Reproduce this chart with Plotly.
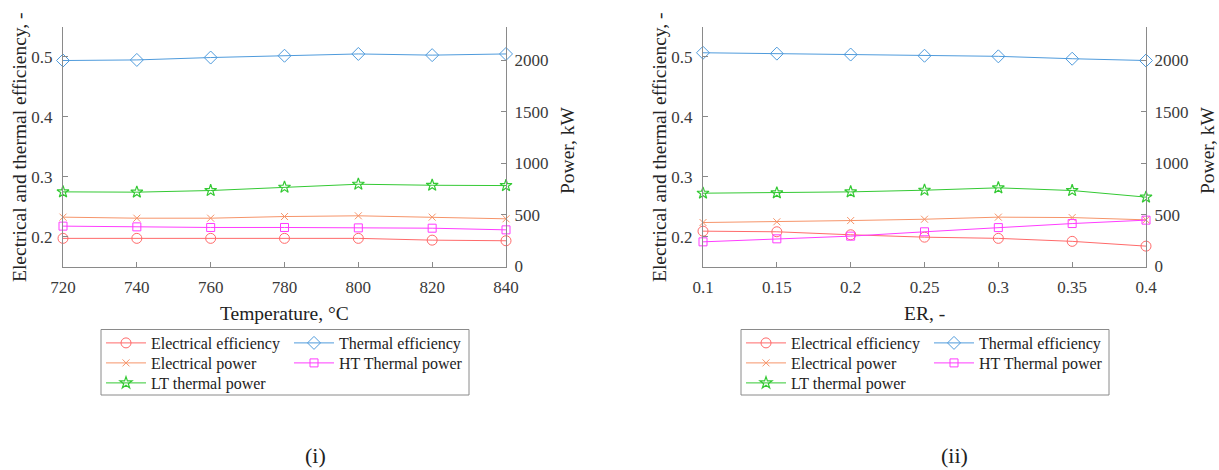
import plotly.graph_objects as go

W, H = 1219, 470

# ---------------- data ----------------
temperature = [720, 740, 760, 780, 800, 820, 840]
er = [0.1, 0.15, 0.2, 0.25, 0.3, 0.35, 0.4]
er_ticktext = ["0.1", "0.15", "0.2", "0.25", "0.3", "0.35", "0.4"]

# (i) temperature sweep
t_elec_eff = [0.197, 0.197, 0.197, 0.197, 0.197, 0.194, 0.193]
t_therm_eff = [0.494, 0.495, 0.499, 0.502, 0.505, 0.503, 0.505]
t_elec_pow = [478, 468, 468, 484, 491, 478, 462]
t_ht_pow = [391, 384, 378, 378, 374, 371, 355]
t_lt_pow = [723, 720, 736, 768, 797, 787, 784]

# (ii) ER sweep
e_elec_eff = [0.209, 0.208, 0.203, 0.199, 0.197, 0.192, 0.184]
e_therm_eff = [0.507, 0.5055, 0.504, 0.502, 0.501, 0.497, 0.494]
e_elec_pow = [426, 433, 445, 458, 478, 474, 452]
e_ht_pow = [239, 268, 294, 336, 377, 416, 449]
e_lt_pow = [710, 713, 723, 739, 762, 736, 672]

eff_ticks = [0.2, 0.3, 0.4, 0.5]
eff_ticktext = ["0.2", "0.3", "0.4", "0.5"]
pow_ticks = [0, 500, 1000, 1500, 2000]

names = ["Electrical efficiency", "Thermal efficiency", "Electrical power",
         "HT Thermal power", "LT thermal power"]
colors = ["#ff6a6a", "#4f9bdc", "#f6946a", "#ff3cff", "#34c934"]
symbols = ["circle-open", "diamond-open", "x-thin-open", "square-open", "star-open"]
msizes = [10, 10, 7, 8, 9]

FONT = "Liberation Serif"
AX = "#8a8a8a"
TXT = "#3a3a3a"

fig = go.Figure()


def px_x(p):
    return p / W


def px_y(p):
    return 1 - p / H


# domains (pixel positions)
d1 = [px_x(63), px_x(506)]
d2 = [px_x(703), px_x(1146)]
dy = [px_y(266.5), px_y(27)]

panels = [
    (temperature, [t_elec_eff, t_therm_eff, t_elec_pow, t_ht_pow, t_lt_pow],
     "x", "y", "y2", ["legend", "legend", "legend2", "legend2", "legend3"]),
    (er, [e_elec_eff, e_therm_eff, e_elec_pow, e_ht_pow, e_lt_pow],
     "x2", "y3", "y4", ["legend4", "legend4", "legend5", "legend5", "legend6"]),
]

for xs, series, xa, ya_l, ya_r, legs in panels:
    for i, vals in enumerate(series):
        on_right = i >= 2
        fig.add_trace(go.Scatter(
            x=xs, y=vals, name=names[i], mode="lines+markers",
            line=dict(color=colors[i], width=1),
            marker=dict(symbol=symbols[i], size=msizes[i], color=colors[i],
                        line=dict(color=colors[i], width=1.2 if i == 4 else 1)),
            xaxis=xa, yaxis=(ya_r if on_right else ya_l),
            legend=legs[i], cliponaxis=False,
        ))

tickfont = dict(family=FONT, size=17, color=TXT)
common_x = dict(showline=True, linecolor=AX, linewidth=1, ticks="inside",
                ticklen=5, tickcolor=AX, showgrid=False, zeroline=False,
                tickfont=tickfont, automargin=False, ticklabelstandoff=5)
common_yl = dict(showline=True, linecolor=AX, linewidth=1, ticks="inside",
                 ticklen=5, tickcolor=AX, showgrid=False, zeroline=False,
                 tickfont=tickfont, automargin=False, ticklabelstandoff=6)
common_yr = dict(common_yl, ticklabelstandoff=4)

fig.update_layout(
    width=W, height=H,
    margin=dict(l=0, r=0, t=0, b=0, pad=0, autoexpand=False),
    paper_bgcolor="white", plot_bgcolor="white",
    font=dict(family=FONT, color="#222222"),
    xaxis=dict(domain=d1, anchor="y", range=[720, 840], tickvals=temperature,
               **common_x),
    yaxis=dict(domain=dy, anchor="x", range=[0.15, 0.55], tickvals=eff_ticks,
               ticktext=eff_ticktext, side="left", **common_yl),
    yaxis2=dict(domain=dy, anchor="x", overlaying="y", side="right",
                range=[0, 2320], tickvals=pow_ticks, **common_yr),
    xaxis2=dict(domain=d2, anchor="y3", range=[0.1, 0.4], tickvals=er,
                ticktext=er_ticktext, **common_x),
    yaxis3=dict(domain=dy, anchor="x2", range=[0.15, 0.55], tickvals=eff_ticks,
                ticktext=eff_ticktext, side="left", **common_yl),
    yaxis4=dict(domain=dy, anchor="x2", overlaying="y3", side="right",
                range=[0, 2320], tickvals=pow_ticks, **common_yr),
)

# legends: one horizontal legend per row
leg_font = dict(family=FONT, size=16, color="#222222")
rows_y = [343, 363, 383]
for base, x0 in [(0, 101), (3, 741)]:
    for r in range(3):
        key = "legend" if base + r == 0 else f"legend{base + r + 1}"
        fig.update_layout(**{key: dict(
            x=px_x(x0), xanchor="left", y=px_y(rows_y[r]), yanchor="middle",
            orientation="h", entrywidth=133, entrywidthmode="pixels",
            itemwidth=40, font=leg_font, bgcolor="rgba(0,0,0,0)",
            borderwidth=0, tracegroupgap=0, itemclick=False,
        )})

# legend boxes
for x0, x1 in [(101, 469), (741, 1109)]:
    fig.add_shape(type="rect", xref="paper", yref="paper",
                  x0=px_x(x0), x1=px_x(x1), y0=px_y(395), y1=px_y(329.5),
                  line=dict(color=AX, width=1), fillcolor="rgba(0,0,0,0)")

title_font = dict(family=FONT, size=19.5, color="#222222")
ann = [
    dict(text="Electrical and thermal efficiency, -", x=20, y=147, angle=-90),
    dict(text="Power, kW", x=567, y=150, angle=-90),
    dict(text="Temperature, °C", x=284.5, y=313, angle=0),
    dict(text="Electrical and thermal efficiency, -", x=660, y=147, angle=-90),
    dict(text="Power, kW", x=1207, y=150, angle=-90),
    dict(text="ER, -", x=924.5, y=313, angle=0),
]
for a in ann:
    fig.add_annotation(text=a["text"], x=px_x(a["x"]), y=px_y(a["y"]),
                       xref="paper", yref="paper", showarrow=False,
                       textangle=a["angle"], font=title_font,
                       xanchor="center", yanchor="middle")

for txt, x in [("(i)", 315), ("(ii)", 955)]:
    fig.add_annotation(text=txt, x=px_x(x), y=px_y(455), xref="paper",
                       yref="paper", showarrow=False,
                       font=dict(family=FONT, size=22, color="#222222"),
                       xanchor="center", yanchor="middle")

fig.write_html("out.html")
